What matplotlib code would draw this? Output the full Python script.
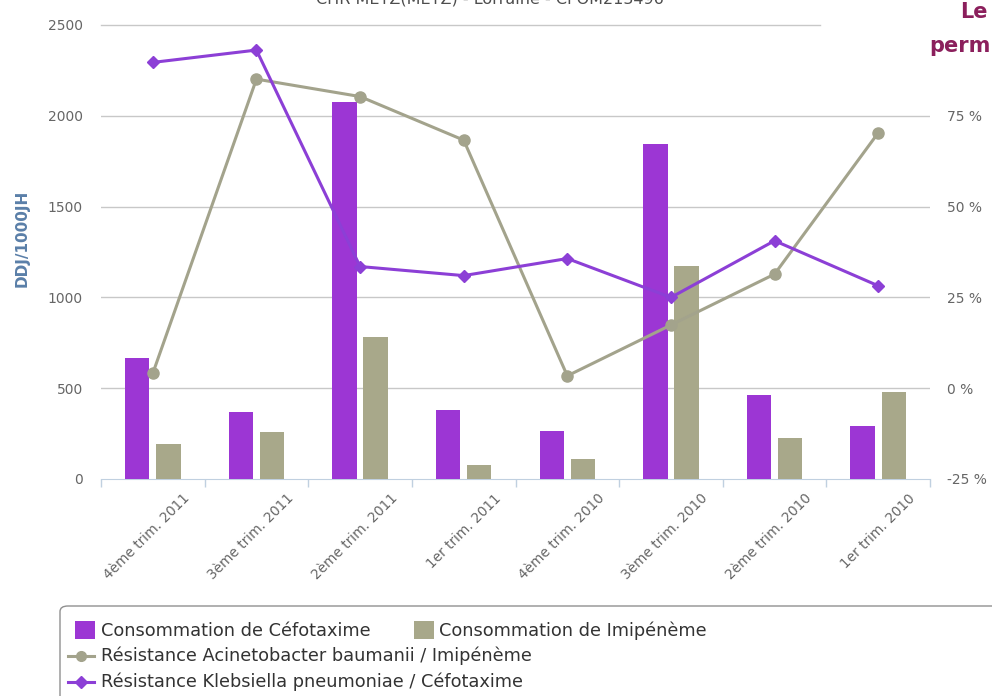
import numpy as np
import matplotlib
matplotlib.use("Agg")
import matplotlib.pyplot as plt
from matplotlib.patches import FancyBboxPatch, Rectangle
from matplotlib.lines import Line2D
import matplotlib.transforms as mtransforms

plt.rcParams['font.family'] = ['DejaVu Sans']

trimestres = ['4ème trim. 2011', '3ème trim. 2011', '2ème trim. 2011', '1er trim. 2011',
              '4ème trim. 2010', '3ème trim. 2010', '2ème trim. 2010', '1er trim. 2010']
conso_cefotaxime = [668, 371, 2078, 380, 266, 1843, 463, 292]
conso_imipeneme = [191, 257, 780, 77, 108, 1173, 228, 481]
resist_acineto = [4.1, 85.1, 80.3, 68.3, 3.4, 17.4, 31.4, 70.3]
resist_klebsiella = [89.7, 93.1, 33.5, 31.0, 35.7, 25.0, 40.6, 28.2]

left_ticks = [0, 500, 1000, 1500, 2000, 2500]
right_ticks = [-25, 0, 25, 50, 75]

violet = '#9c36d4'
olive = '#a8a88a'
violet_line = '#8c3fd6'
olive_line = '#a3a38c'
grid_col = '#c8c8c8'
label_col = '#666666'

W, H = 992, 696
fig = plt.figure(figsize=(W / 100, H / 100), dpi=100)
ax = fig.add_axes([101 / W, 1 - 479 / H, (930 - 101) / W, (479 - 25) / H])

x = np.arange(len(trimestres))
bw = 0.235
ax.bar(x - 0.15, conso_cefotaxime, bw, color=violet, zorder=3)
ax.bar(x + 0.15, conso_imipeneme, bw, color=olive, zorder=3)

ax.set_xlim(-0.5, len(trimestres) - 0.5)
ax.set_ylim(0, 2500)
ax.set_yticks(left_ticks)
ax.set_yticklabels([str(v) for v in left_ticks], color=label_col, fontsize=10)
ax.tick_params(axis='y', length=0, pad=13)

# grid lines (top one stops early, hidden behind the box on the right)
for v in left_ticks[1:-1]:
    ax.axhline(v, color=grid_col, lw=1, zorder=1)
ax.axhline(2500, xmax=(820 - 101) / (930 - 101), color=grid_col, lw=1, zorder=1, clip_on=False)

for s in ['top', 'right', 'left']:
    ax.spines[s].set_visible(False)
ax.spines['bottom'].set_color('#c0d0e0')

ax.set_xticks(np.arange(len(trimestres) + 1) - 0.5, minor=False)
ax.set_xticklabels([])
ax.tick_params(axis='x', length=6, color='#c0d0e0', width=1)
offset = mtransforms.ScaledTranslation(0.30, -0.12, fig.dpi_scale_trans)
for i, lab in enumerate(trimestres):
    ax.text(i, 0, lab, rotation=45, ha='right', va='top', rotation_mode='anchor',
            fontsize=9.8, color=label_col, transform=ax.get_xaxis_transform() + offset)

ax.set_ylabel('DDJ/1000JH', color='#5a7fa8', fontsize=11, fontweight='bold')
ax.yaxis.set_label_coords(-71 / (930 - 101), 0.53)

ax2 = ax.twinx()
ax2.set_ylim(-25, 100)
ax2.set_yticks(right_ticks)
ax2.set_yticklabels([f'{v} %' for v in right_ticks], color=label_col, fontsize=10)
ax2.tick_params(axis='y', length=0, pad=12)
for s in ['top', 'right', 'left', 'bottom']:
    ax2.spines[s].set_visible(False)

ax2.plot(x, resist_acineto, color=olive_line, lw=2.2, marker='o', ms=8, zorder=4)
ax2.plot(x, resist_klebsiella, color=violet_line, lw=2.2, marker='D', ms=6, zorder=5)

# title, cut off at the top as in the screenshot
fig.text(490 / W, 1 + 1 / H, 'CHR METZ(METZ) - Lorraine - CPOM213496', ha='center', va='center',
         fontsize=11.5, color='#4d4d4d')
fig.text(960 / W, 1 - 12 / H, 'Le', ha='left', va='center', fontsize=15, fontweight='bold',
         color='#8b1f5c')
fig.text(929 / W, 1 - 46 / H, 'perm', ha='left', va='center', fontsize=15, fontweight='bold',
         color='#8b1f5c')

# legend box
box = FancyBboxPatch((60 / W, -20 / H), 960 / W, (696 - 606 + 20) / H,
                     boxstyle='round,pad=0,rounding_size=0.008', transform=fig.transFigure,
                     fc='white', ec='#909090', lw=1, clip_on=False)
fig.patches.append(box)
fs_leg = 12.8
leg_col = '#333333'
fig.patches.append(Rectangle((75 / W, 1 - 639 / H), 20 / W, 18 / H, transform=fig.transFigure,
                             fc=violet, ec='none'))
fig.text(101 / W, 1 - 631 / H, 'Consommation de Céfotaxime', va='center', fontsize=fs_leg, color=leg_col)
fig.patches.append(Rectangle((414 / W, 1 - 639 / H), 20 / W, 18 / H, transform=fig.transFigure,
                             fc=olive, ec='none'))
fig.text(439 / W, 1 - 631 / H, 'Consommation de Imipénème', va='center', fontsize=fs_leg, color=leg_col)
fig.lines.append(Line2D([68 / W, 94 / W], [1 - 656 / H] * 2, transform=fig.transFigure,
                        color=olive_line, lw=2.2))
fig.lines.append(Line2D([81 / W], [1 - 656 / H], transform=fig.transFigure,
                        color=olive_line, marker='o', ms=7))
fig.text(101 / W, 1 - 656 / H, 'Résistance Acinetobacter baumanii / Imipénème', va='center',
         fontsize=fs_leg, color=leg_col)
fig.lines.append(Line2D([68 / W, 94 / W], [1 - 682 / H] * 2, transform=fig.transFigure,
                        color=violet_line, lw=2.2))
fig.lines.append(Line2D([81 / W], [1 - 682 / H], transform=fig.transFigure,
                        color=violet_line, marker='D', ms=6))
fig.text(101 / W, 1 - 682 / H, 'Résistance Klebsiella pneumoniae / Céfotaxime', va='center',
         fontsize=fs_leg, color=leg_col)

fig.savefig('out.png', dpi=100)
